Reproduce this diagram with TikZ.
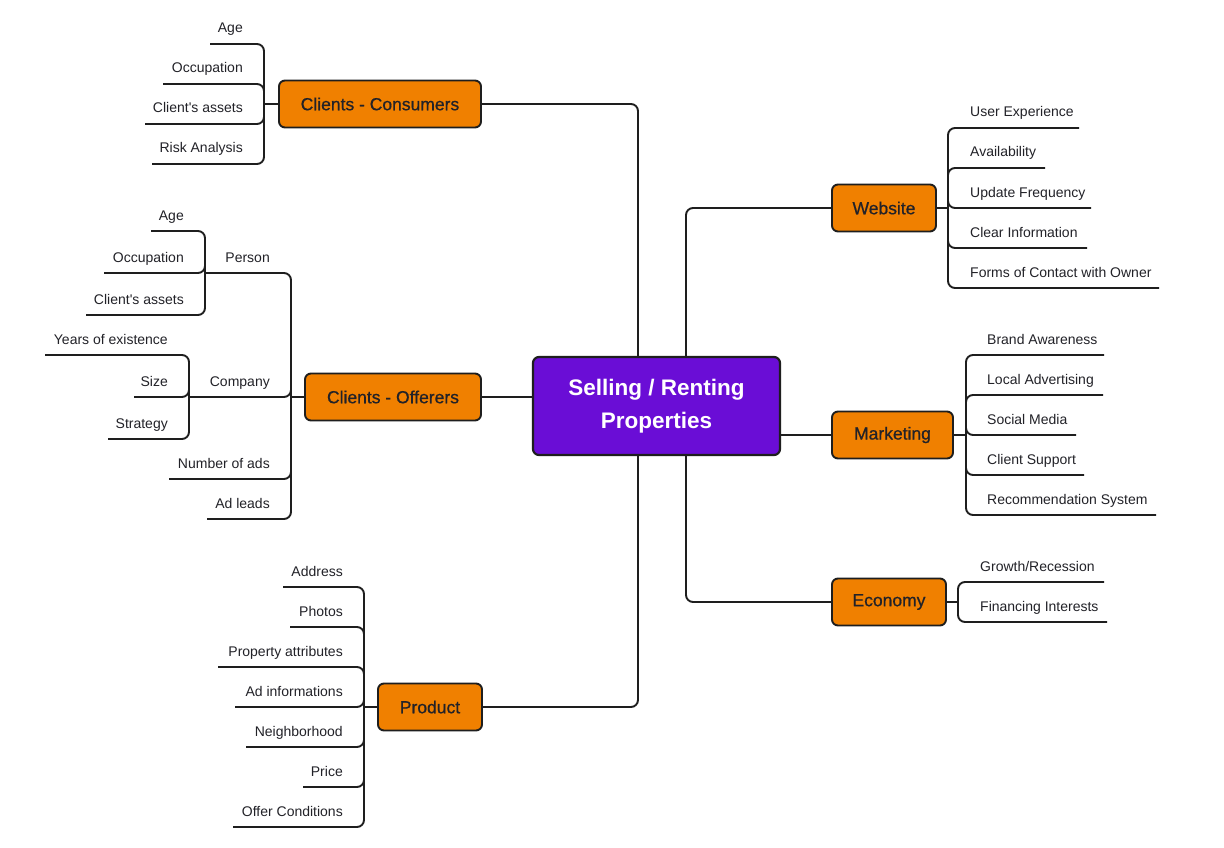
\documentclass[tikz,border=0pt]{standalone}
\usepackage{fontspec}
\setmainfont{Liberation Sans}
\newfontfamily\medfont{Liberation Sans}[FakeBold=0.7]
\usetikzlibrary{calc}
\definecolor{boxorange}{RGB}{240,128,0}
\definecolor{mainpurple}{RGB}{106,13,214}
\definecolor{edge}{RGB}{30,30,30}
\definecolor{txt}{RGB}{34,34,40}
\tikzset{
  conn/.style={draw=edge, line width=1.9pt, rounded corners=7pt},
  box/.style={draw=edge, line width=1.9pt, fill=boxorange, rounded corners=6pt, text=txt,
     font=\medfont\fontsize{17.5}{20}\selectfont, inner sep=0pt, minimum height=47pt},
  mainbox/.style={draw=edge, line width=2.2pt, fill=mainpurple, rounded corners=6pt, text=white,
     font=\fontsize{22.5}{33}\selectfont\bfseries, align=center, inner sep=0pt,
     minimum width=247pt, minimum height=98pt},
  leaf/.style={text=txt, font=\fontsize{14}{17}\selectfont, inner sep=0pt},
}
\newcommand{\leafL}[6]{%
  \coordinate (#1) at (#4,#5);
  \node[leaf, anchor=base east] (#1t) at (#6,#5-11) {#2};
  \draw[conn] (#3) |- (#1);
}
\newcommand{\leafR}[6]{%
  \coordinate (#1) at (#4,#5);
  \node[leaf, anchor=base west] (#1t) at (#6,#5-11) {#2};
  \draw[conn] (#3) |- (#1);
}
\begin{document}
\begin{tikzpicture}[x=1pt,y=-1pt]
\fill[white] (0,0) rectangle (1224,848);
\useasboundingbox (0,0) rectangle (1224,848);

% central and main boxes
\node[mainbox] (central) at (656.5,406) {Selling / Renting\\Properties};
\node[box, minimum width=202pt] (cons) at (380,104) {Clients - Consumers};
\node[box, minimum width=176pt] (offr) at (393,397) {Clients - Offerers};
\node[box, minimum width=104pt] (prod) at (430,707) {Product};
\node[box, minimum width=104pt] (web) at (884,208) {Website};
\node[box, minimum width=121pt] (mkt) at (892.5,435) {Marketing};
\node[box, minimum width=114pt] (eco) at (889,602) {Economy};

% central connectors
\draw[conn] ([xshift=-18.5pt]central.north) |- (cons.east);
\draw[conn] ([xshift=29.5pt]central.north) |- (web.west);
\draw[conn] (offr.east) -- (offr.east -| central.west);
\draw[conn] (mkt.west) -- (mkt.west -| central.east);
\draw[conn] ([xshift=-18.5pt]central.south) |- (prod.east);
\draw[conn] ([xshift=29.5pt]central.south) |- (eco.west);

% Clients - Consumers
\coordinate (ch) at (264,104);
\draw[conn] (cons.west) -- (ch);
\leafL{c1}{Age}{ch}{210}{44}{243}
\leafL{c2}{Occupation}{ch}{163}{84}{243}
\leafL{c3}{Client\textquotesingle s assets}{ch}{145}{124}{243}
\leafL{c4}{Risk Analysis}{ch}{152}{164}{243}

% Clients - Offerers
\coordinate (oh) at (291,397);
\draw[conn] (offr.west) -- (oh);
\leafL{ph}{Person}{oh}{205}{273}{270}
\leafL{p1}{Age}{ph}{151}{231}{184}
\leafL{p2}{Occupation}{ph}{104}{273}{184}
\leafL{p3}{Client\textquotesingle s assets}{ph}{86}{315}{184}
\leafL{cph}{Company}{oh}{189}{397}{270}
\leafL{q1}{Years of existence}{cph}{45}{355}{168}
\leafL{q2}{Size}{cph}{134}{397}{168}
\leafL{q3}{Strategy}{cph}{108}{439}{168}
\leafL{o3}{Number of ads}{oh}{169}{479}{270}
\leafL{o4}{Ad leads}{oh}{207}{519}{270}

% Product
\coordinate (prh) at (364,707);
\draw[conn] (prod.west) -- (prh);
\leafL{r1}{Address}{prh}{283}{587}{343}
\leafL{r2}{Photos}{prh}{290}{627}{343}
\leafL{r3}{Property attributes}{prh}{218}{667}{343}
\leafL{r4}{Ad informations}{prh}{235}{707}{343}
\leafL{r5}{Neighborhood}{prh}{246}{747}{343}
\leafL{r6}{Price}{prh}{303}{787}{343}
\leafL{r7}{Offer Conditions}{prh}{233}{827}{343}

% Website
\coordinate (wh) at (948,208);
\draw[conn] (web.east) -- (wh);
\leafR{w1}{User Experience}{wh}{1079}{128}{970}
\leafR{w2}{Availability}{wh}{1045}{168}{970}
\leafR{w3}{Update Frequency}{wh}{1091}{208}{970}
\leafR{w4}{Clear Information}{wh}{1087}{248}{970}
\leafR{w5}{Forms of Contact with Owner}{wh}{1159}{288}{970}

% Marketing
\coordinate (mh) at (966,435);
\draw[conn] (mkt.east) -- (mh);
\leafR{m1}{Brand Awareness}{mh}{1104}{355}{987}
\leafR{m2}{Local Advertising}{mh}{1103}{395}{987}
\leafR{m3}{Social Media}{mh}{1076}{435}{987}
\leafR{m4}{Client Support}{mh}{1084}{475}{987}
\leafR{m5}{Recommendation System}{mh}{1156}{515}{987}

% Economy
\coordinate (eh) at (958,602);
\draw[conn] (eco.east) -- (eh);
\leafR{e1}{Growth/Recession}{eh}{1104}{582}{980}
\leafR{e2}{Financing Interests}{eh}{1107}{622}{980}
\end{tikzpicture}
\end{document}
